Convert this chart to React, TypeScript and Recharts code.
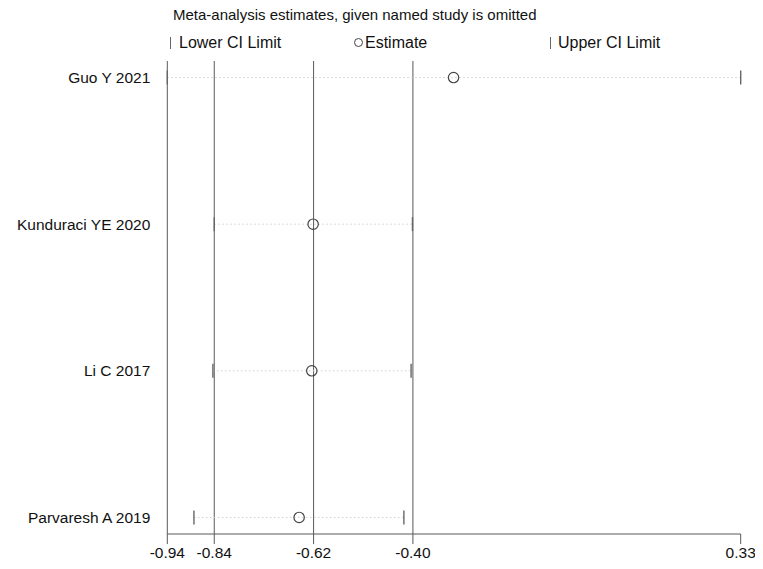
import React from 'react';
import { ComposedChart, XAxis, YAxis, Scatter, ReferenceLine } from 'recharts';

// Influence analysis: pooled estimate recomputed with each study left out
const studies = ['Guo Y 2021', 'Kunduraci YE 2020', 'Li C 2017', 'Parvaresh A 2019'];
const lowerCI = [-0.94, -0.836, -0.839, -0.881];
const estimates = [-0.306, -0.617, -0.62, -0.648];
const upperCI = [0.33, -0.397, -0.4, -0.416];

// Full-analysis lower limit, estimate and upper limit (vertical guide lines)
const pooled = [-0.836, -0.616, -0.396];
const axisMin = -0.94;
const axisMax = 0.33;
const xTicks = [axisMin, ...pooled, axisMax];

const FONT = '"Liberation Sans", Arial, sans-serif';
const LINE = '#595959';

const rows = studies.map((name, i) => ({ name, y: i }));
const lowerPts = rows.map((r, i) => ({ x: lowerCI[i], y: r.y }));
const estPts = rows.map((r, i) => ({ x: estimates[i], y: r.y }));
const upperPts = rows.map((r, i) => ({ x: upperCI[i], y: r.y }));

const LimitMark = (props: any) => {
  const { cx, cy } = props;
  if (cx == null || cy == null) return null;
  return <line x1={cx} x2={cx} y1={cy - 7} y2={cy + 7} stroke="#666" strokeWidth={1.4} />;
};

const EstimateMark = (props: any) => {
  const { cx, cy } = props;
  if (cx == null || cy == null) return null;
  return <circle cx={cx} cy={cy} r={5.2} fill="none" stroke="#444" strokeWidth={1.2} />;
};

const legendText: React.CSSProperties = {
  position: 'absolute',
  fontFamily: FONT,
  fontSize: 16,
  color: '#111',
  whiteSpace: 'nowrap',
  lineHeight: '18px',
};

export default function App() {
  return (
    <div style={{ position: 'relative', width: 755, height: 561 }}>
      <div style={{ ...legendText, fontSize: 15, left: 165, top: -2 }}>
        Meta-analysis estimates, given named study is omitted
      </div>
      <div style={{ position: 'absolute', left: 162, top: 29, width: 1.3, height: 12, background: '#666' }} />
      <div style={{ ...legendText, left: 171, top: 26 }}>Lower CI Limit</div>
      <div
        style={{
          position: 'absolute',
          left: 346,
          top: 30,
          width: 7,
          height: 7,
          borderRadius: '50%',
          border: '1.1px solid #444',
        }}
      />
      <div style={{ ...legendText, left: 357, top: 26 }}>Estimate</div>
      <div style={{ position: 'absolute', left: 542, top: 29, width: 1.3, height: 12, background: '#666' }} />
      <div style={{ ...legendText, left: 550, top: 26 }}>Upper CI Limit</div>

      <ComposedChart
        width={755}
        height={561}
        margin={{ top: 53, right: 22.3, bottom: 5, left: 9.3 }}
        style={{ position: 'absolute', left: 0, top: 0 }}
      >
        <XAxis
          type="number"
          dataKey="x"
          domain={[axisMin, axisMax]}
          ticks={xTicks}
          interval={0}
          height={30}
          tickSize={10}
          tickMargin={3}
          tickFormatter={(v: number) => v.toFixed(2)}
          axisLine={{ stroke: LINE, strokeWidth: 1 }}
          tickLine={{ stroke: LINE, strokeWidth: 1 }}
          tick={{ fill: '#111', fontSize: 15.5, fontFamily: FONT }}
        />
        <YAxis
          type="number"
          dataKey="y"
          domain={[-0.113, 3.113]}
          reversed
          ticks={[0, 1, 2, 3]}
          interval={0}
          width={150}
          tickSize={0}
          tickMargin={17}
          tickLine={false}
          tickFormatter={(v: number) => studies[v] ?? ''}
          axisLine={{ stroke: LINE, strokeWidth: 1 }}
          tick={{ fill: '#111', fontSize: 15.5, fontFamily: FONT }}
        />
        {pooled.map((v) => (
          <ReferenceLine key={`p${v}`} x={v} stroke={LINE} strokeWidth={1} />
        ))}
        {rows.map((r, i) => (
          <ReferenceLine
            key={`s${r.name}`}
            segment={[
              { x: lowerCI[i], y: r.y },
              { x: upperCI[i], y: r.y },
            ]}
            stroke="#cfcfcf"
            strokeWidth={1}
            strokeDasharray="1.5 2.5"
          />
        ))}
        <Scatter data={lowerPts} shape={LimitMark} isAnimationActive={false} />
        <Scatter data={upperPts} shape={LimitMark} isAnimationActive={false} />
        <Scatter data={estPts} shape={EstimateMark} isAnimationActive={false} />
      </ComposedChart>
    </div>
  );
}
